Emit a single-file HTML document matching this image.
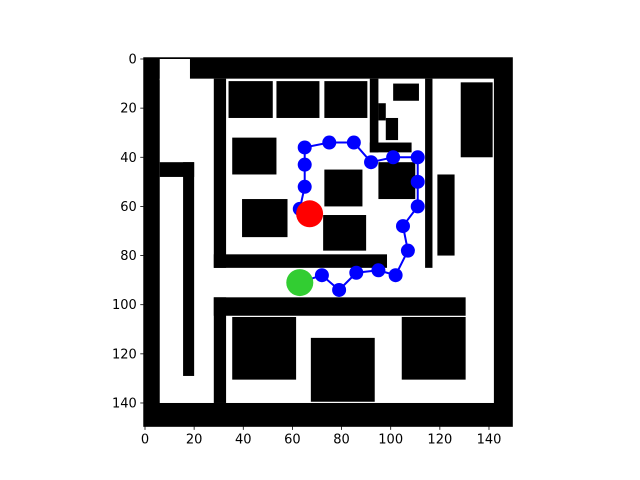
<!DOCTYPE html>
<html><head><meta charset="utf-8"><style>
body{margin:0;background:#fff;}
svg{display:block;font-family:"DejaVu Sans","Liberation Sans",sans-serif;}
</style></head><body>
<svg id="chart" width="640" height="480">
<g id="map"></g>
<g id="path"></g>
<g id="axes"></g>
</svg>
<script>
const pathX=[63,72,79,86,95,102,107,105,111,111,111,101,92,85,75,65,65,65,63];
const pathY=[91,88,94,87,86,88,78,68,60,50,40,40,42,34,34,36,43,52,61];
const startPt=[63,91];
const goalPt=[67,63];
const xTicks=[0,20,40,60,80,100,120,140];
const yTicks=[0,20,40,60,80,100,120,140];
// free space [x0,y0,x1,y1]
const freeAreas=[[6,0,18.3,8.6],[6,8,142,140]];
// obstacles [x0,y0,x1,y1]
const walls=[
[6,42,20,48],[15.5,42,20,129],
[28,8,33,85],[28,79.5,98.5,85],
[114,8,117,85],
[34,9,52,24],[53.5,9,71,24],[73,9,90.5,24],
[91.5,8,95,38],[91.5,34,108.5,38],[95,18,98,25],
[101,10,111.5,17],[98,24,103,33],
[128.5,9.5,141.5,40],[119,47,126,80],
[73,45,88.5,60],[95,42,110,57],[72.5,63.5,90,78],
[35.5,32,53.5,47],[39.5,57,58,72.5],
[28,97,130.5,104.5],[28,97,33,140],
[35.5,105,61.5,130.5],[67.5,113.5,93.5,139.5],[104.5,105,130.5,130.5]
];
const S=2.457;
function X(d){return 145+d*S;}
function Y(d){return 59+d*S;}
const NS="http://www.w3.org/2000/svg";
function mk(tag,attrs,parent){const e=document.createElementNS(NS,tag);for(const k in attrs)e.setAttribute(k,attrs[k]);parent.appendChild(e);return e;}
const map=document.getElementById('map'),pg=document.getElementById('path'),ax=document.getElementById('axes');
const bg=mk('rect',{x:X(-0.5),y:Y(-0.5),width:150*S,height:150*S,fill:'#000'},map);


freeAreas.forEach(f=>{const r=mk('rect',{x:X(f[0]),y:Y(f[1]),width:(f[2]-f[0])*S,height:(f[3]-f[1])*S,fill:'#fff'},map);

});
walls.forEach(w=>{const r=mk('rect',{x:X(w[0]),y:Y(w[1]),width:(w[2]-w[0])*S,height:(w[3]-w[1])*S,fill:'#000'},map);

});
const pts=pathX.map((x,i)=>X(x)+','+Y(pathY[i])).join(' ');
const pl=mk('polyline',{points:pts,fill:'none',stroke:'#0000ff','stroke-width':2},pg);


pathX.forEach((x,i)=>{const c=mk('circle',{cx:X(x),cy:Y(pathY[i]),r:7,fill:'#0000ff'},pg);

});
const g=mk('circle',{cx:X(startPt[0]),cy:Y(startPt[1]),r:13.5,fill:'#32cd32'},pg);


const rd=mk('circle',{cx:X(goalPt[0]),cy:Y(goalPt[1]),r:13.5,fill:'#ff0000'},pg);


const fr=mk('rect',{x:X(-0.5),y:Y(-0.5),width:150*S,height:150*S,fill:'none',stroke:'#000','stroke-width':1},ax);


const bottom=Y(149.5),left=X(-0.5);
xTicks.forEach(t=>{const l=mk('line',{x1:X(t),x2:X(t),y1:bottom,y2:bottom+3.5,stroke:'#000','stroke-width':0.8},ax);


const tx=mk('text',{x:X(t),y:bottom+17,'text-anchor':'middle','font-size':13,fill:'#000'},ax);tx.textContent=t;

});
yTicks.forEach(t=>{const l=mk('line',{x1:left-3.5,x2:left,y1:Y(t),y2:Y(t),stroke:'#000','stroke-width':0.8},ax);


const tx=mk('text',{x:left-7,y:Y(t)+4.5,'text-anchor':'end','font-size':13,fill:'#000'},ax);tx.textContent=t;

});
</script>
</body></html>
